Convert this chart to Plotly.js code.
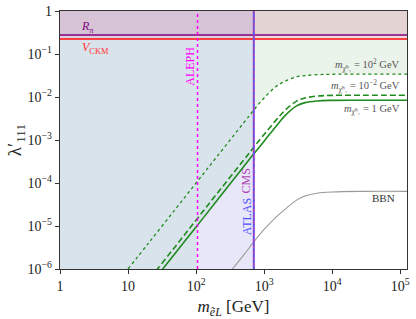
<!DOCTYPE html>
<html>
<head>
<meta charset="utf-8">
<script src="https://cdn.plot.ly/plotly-3.0.1.min.js"></script>
<style>html,body{margin:0;padding:0;background:#fff;}#chart{width:416px;height:319px;}</style>
</head>
<body>
<div id="chart"></div>
<script>
// ---- data ----
const mGrid = [10, 20, 50, 100, 200, 500, 700, 1000, 1500, 2000, 3000, 4000, 6000, 10000, 30000, 130000];
const lamChi100 = [1.0e-6, 4.0e-6, 2.5e-5, 1.0e-4, 4.0e-4, 2.5e-3, 4.9e-3, 9.5e-3, 1.75e-2, 2.3e-2, 2.95e-2, 3.15e-2, 3.3e-2, 3.38e-2, 3.4e-2, 3.4e-2];
const lamChi001 = [1.37e-7, 5.5e-7, 3.4e-6, 1.37e-5, 5.5e-5, 3.4e-4, 6.7e-4, 1.35e-3, 2.9e-3, 4.8e-3, 8.0e-3, 9.5e-3, 1.05e-2, 1.09e-2, 1.1e-2, 1.1e-2];
const lamChi1 = [9.5e-8, 3.8e-7, 2.4e-6, 9.5e-6, 3.8e-5, 2.4e-4, 4.7e-4, 9.4e-4, 2.1e-3, 3.6e-3, 6.2e-3, 7.4e-3, 8.1e-3, 8.35e-3, 8.4e-3, 8.4e-3];
const mBBN = [342, 500, 700, 1000, 1500, 2000, 3000, 4000, 6000, 10000, 30000, 130000];
const lamBBN = [1.0e-6, 2.1e-6, 4.2e-6, 8.3e-6, 1.6e-5, 2.4e-5, 4.0e-5, 5.0e-5, 5.8e-5, 6.2e-5, 6.4e-5, 6.4e-5];
const boundALEPH = 105;     // GeV
const boundLHC = 705;       // GeV
const boundRpi = 0.277;
const boundVCKM = 0.223;
const xTickVals = [1, 10, 100, 1000, 1e4, 1e5];
const xTickText = ["1", "10", "10<sup>2</sup>", "10<sup>3</sup>", "10<sup>4</sup>", "10<sup>5</sup>"];
const yTickVals = [1, 1e-1, 1e-2, 1e-3, 1e-4, 1e-5, 1e-6];
const yTickText = ["1", "10<sup>−1</sup>", "10<sup>−2</sup>", "10<sup>−3</sup>", "10<sup>−4</sup>", "10<sup>−5</sup>", "10<sup>−6</sup>"];
const curveLabels = ["<i>m</i><sub>χ̃⁰₁</sub> = 10<sup>2</sup> GeV", "<i>m</i><sub>χ̃⁰₁</sub> = 10<sup>−2</sup> GeV", "<i>m</i><sub>χ̃⁰₁</sub> = 1 GeV"];

// ---- helpers ----
const xMin = 1, xMax = Math.pow(10, 5.1), yMin = 1e-6, yMax = 1;
function logInterp(xs, ys, x) {
  for (let i = 0; i < xs.length - 1; i++) {
    if (x >= xs[i] && x <= xs[i + 1]) {
      const t = (Math.log10(x) - Math.log10(xs[i])) / (Math.log10(xs[i + 1]) - Math.log10(xs[i]));
      return Math.pow(10, Math.log10(ys[i]) + t * (Math.log10(ys[i + 1]) - Math.log10(ys[i])));
    }
  }
  return ys[ys.length - 1];
}
function rect(x0, x1, y0, y1, color) {
  return {x: [x0, x1, x1, x0, x0], y: [y0, y0, y1, y1, y0], mode: 'lines', fill: 'toself',
    fillcolor: color, line: {width: 0, color: color}, hoverinfo: 'skip', showlegend: false};
}

const traces = [];
// green region above the dotted curve, right of LHC bound
{
  const xs = [boundLHC], ys = [logInterp(mGrid, lamChi100, boundLHC)];
  mGrid.forEach((m, i) => { if (m > boundLHC) { xs.push(m); ys.push(lamChi100[i]); } });
  xs.push(xMax, boundLHC, boundLHC); ys.push(boundVCKM, boundVCKM, ys[0]);
  traces.push({x: xs, y: ys, mode: 'lines', fill: 'toself', fillcolor: '#ebf4eb', line: {width: 0}, hoverinfo: 'skip', showlegend: false});
}
// lavender region between ALEPH and LHC bounds
traces.push(rect(boundALEPH, boundLHC, yMin, boundVCKM, '#e7e7f9'));
// blue-grey region
{
  const xs = [xMin, boundALEPH, boundALEPH], ys = [yMin, yMin, logInterp(mGrid, lamChi1, boundALEPH)];
  mGrid.forEach((m, i) => { if (m > boundALEPH && m < boundLHC) { xs.push(m); ys.push(lamChi1[i]); } });
  xs.push(boundLHC, boundLHC, xMin, xMin); ys.push(logInterp(mGrid, lamChi1, boundLHC), boundVCKM, boundVCKM, yMin);
  traces.push({x: xs, y: ys, mode: 'lines', fill: 'toself', fillcolor: '#d9e3eb', line: {width: 0}, hoverinfo: 'skip', showlegend: false});
}
// top bands
traces.push(rect(xMin, boundLHC, boundVCKM, boundRpi, '#e2cfdc'));
traces.push(rect(boundLHC, xMax, boundVCKM, boundRpi, '#f2dada'));
traces.push(rect(xMin, boundLHC, boundRpi, yMax, '#d6c4d6'));
traces.push(rect(boundLHC, xMax, boundRpi, yMax, '#e3d3d3'));

// curves
const green = '#1f8a1f';
traces.push({x: mBBN, y: lamBBN, mode: 'lines', line: {color: '#9a9a9a', width: 1.1, shape: 'spline'}, hoverinfo: 'skip', showlegend: false});
traces.push({x: mGrid, y: lamChi100, mode: 'lines', line: {color: green, width: 1.3, dash: 'dot', shape: 'spline'}, showlegend: false});
traces.push({x: mGrid, y: lamChi001, mode: 'lines', line: {color: green, width: 1.6, dash: '6px,3px', shape: 'spline'}, showlegend: false});
traces.push({x: mGrid, y: lamChi1, mode: 'lines', line: {color: green, width: 1.6, shape: 'spline'}, showlegend: false});

// bound lines
traces.push({x: [xMin, xMax], y: [boundRpi, boundRpi], mode: 'lines', line: {color: '#800080', width: 1.6}, showlegend: false});
traces.push({x: [xMin, xMax], y: [boundVCKM, boundVCKM], mode: 'lines', line: {color: '#ff4040', width: 2}, showlegend: false});
traces.push({x: [boundALEPH, boundALEPH], y: [yMin, yMax], mode: 'lines', line: {color: '#ff00ff', width: 1.5, dash: 'dot'}, showlegend: false});
traces.push({x: [boundLHC, boundLHC], y: [yMin, yMax], mode: 'lines', line: {color: '#9a3fbf', width: 2}, showlegend: false});
traces.push({x: [boundLHC, boundLHC], y: [yMin, yMax], mode: 'lines', line: {color: '#4f5bff', width: 1.2, dash: '3px,3px'}, showlegend: false});

const serif = 'Liberation Serif, DejaVu Serif, serif';
const annFont = (c, s) => ({family: serif, size: s, color: c});
const annotations = [
  {x: 0.41, y: -0.37, text: '<i>R</i><sub>π</sub>', font: annFont('#800080', 12), showarrow: false},
  {x: 0.52, y: -0.86, text: '<i>V</i><sub>CKM</sub>', font: annFont('#ff3030', 12), showarrow: false},
  {x: 1.918, y: -1.285, text: 'ALEPH', textangle: -90, font: annFont('#ff00ff', 12), showarrow: false},
  {x: 2.74, y: -4.785, text: 'ATLAS', textangle: -90, font: annFont('#4f4fff', 12), showarrow: false},
  {x: 2.74, y: -3.956, text: 'CMS', textangle: -90, font: annFont('#b040b0', 12), showarrow: false},
  {x: 5.03, y: -1.26, text: curveLabels[0], xanchor: 'right', font: annFont('#555', 10.5), showarrow: false},
  {x: 5.03, y: -1.75, text: curveLabels[1], xanchor: 'right', font: annFont('#555', 10.5), showarrow: false},
  {x: 5.03, y: -2.29, text: curveLabels[2], xanchor: 'right', font: annFont('#555', 10.5), showarrow: false},
  {x: 4.96, y: -4.36, text: 'BBN', xanchor: 'right', font: annFont('#333', 11), showarrow: false}
];

const layout = {
  width: 416, height: 319,
  margin: {l: 60, r: 9, t: 11, b: 50},
  paper_bgcolor: '#fff', plot_bgcolor: '#fff',
  font: {family: serif, color: '#222'},
  showlegend: false,
  xaxis: {type: 'log', range: [0, 5.1], tickvals: xTickVals, ticktext: xTickText,
    ticks: 'outside', ticklen: 4, tickcolor: '#333', showgrid: false, zeroline: false,
    showline: true, mirror: true, linecolor: '#333', linewidth: 1.2,
    tickfont: {family: serif, size: 14, color: '#222'},
    title: {text: '<i>m</i><sub><i>ẽ</i><i>L</i></sub> [GeV]', font: {family: serif, size: 17, color: '#222'}, standoff: 7}},
  yaxis: {type: 'log', range: [-6, 0], tickvals: yTickVals, ticktext: yTickText,
    ticks: 'outside', ticklen: 4, tickcolor: '#333', showgrid: false, zeroline: false,
    showline: true, mirror: true, linecolor: '#333', linewidth: 1.2,
    tickfont: {family: serif, size: 14, color: '#222'},
    title: {text: 'λ′<sub>111</sub>', font: {family: serif, size: 19, color: '#222'}, standoff: 0}},
  annotations: annotations
};

Plotly.newPlot('chart', traces, layout, {staticPlot: true, displayModeBar: false});
</script>
</body>
</html>
